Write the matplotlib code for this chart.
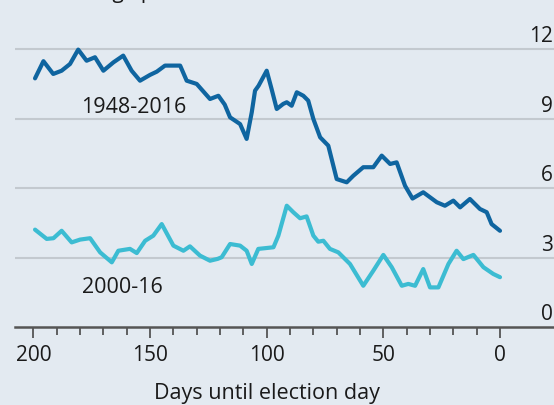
import matplotlib
matplotlib.use("Agg")
import matplotlib.pyplot as plt
from matplotlib.ticker import FixedLocator

plt.rcParams['font.family'] = ['Open Sans', 'DejaVu Sans']

# ---- data ----
long_days = [199.3, 195.7, 191.5, 187.9, 184.3, 180.8, 177.2, 173.6, 170, 165.7,
             161.5, 157.9, 154.3, 150, 147.1, 143.6, 137.1, 134.3, 130, 124.3,
             120.7, 118, 115.7, 111.4, 108.6, 106.4, 105, 103.5, 100, 97.9,
             95.7, 92.9, 91.4, 89.3, 87.1, 84.3, 82.2, 80, 77.1, 73.6,
             70, 65.7, 62.9, 58.6, 54.3, 50.7, 47.1, 44.3, 40.7, 37.5,
             32.9, 27.1, 23.6, 20, 17.1, 12.9, 8.6, 5.7, 3.6, 0]
long_vals = [10.73, 11.47, 10.92, 11.06, 11.35, 11.97, 11.49, 11.64, 11.06, 11.42,
             11.71, 11.06, 10.63, 10.88, 11.02, 11.28, 11.28, 10.63, 10.49, 9.84,
             9.98, 9.6, 9.05, 8.76, 8.12, 9.27, 10.2, 10.41, 11.06, 10.27,
             9.41, 9.63, 9.7, 9.55, 10.13, 9.98, 9.77, 8.98, 8.19, 7.83,
             6.39, 6.25, 6.53, 6.9, 6.9, 7.4, 7.04, 7.11, 6.1, 5.55,
             5.82, 5.39, 5.24, 5.46, 5.17, 5.53, 5.1, 4.96, 4.45, 4.16]

recent_days = [199.3, 194.3, 191.4, 187.9, 183.6, 180, 175.7, 171.4, 166.4, 163.6,
               158.6, 155.7, 152.1, 148.6, 145, 140, 135.7, 132.9, 128.6, 124.3,
               121, 119.3, 115.7, 111.4, 108.6, 106.4, 103.6, 100.7, 97.1, 95,
               91.4, 88.6, 85.7, 82.9, 80, 77.9, 75.7, 72.9, 69.3, 64.3,
               58.6, 54.3, 50, 46.4, 42.1, 39.3, 36.4, 32.9, 30, 26.4,
               22.1, 18.6, 15.7, 11.4, 7.1, 2.9, 0]
recent_vals = [4.21, 3.81, 3.84, 4.16, 3.66, 3.78, 3.84, 3.23, 2.8, 3.3,
               3.38, 3.2, 3.73, 3.95, 4.45, 3.52, 3.3, 3.49, 3.09, 2.87,
               2.95, 3.02, 3.59, 3.52, 3.3, 2.73, 3.38, 3.41, 3.45, 3.95,
               5.24, 4.96, 4.7, 4.78, 3.95, 3.69, 3.73, 3.38, 3.23, 2.73,
               1.79, 2.44, 3.12, 2.59, 1.79, 1.87, 1.79, 2.51, 1.72, 1.72,
               2.73, 3.3, 2.94, 3.12, 2.59, 2.3, 2.16]

x_major = [200, 150, 100, 50, 0]
y_ticks = [0, 3, 6, 9, 12]
long_label = "1948-2016"
recent_label = "2000-16"
x_title = "Days until election day"
top_text = "Percentage points"

# ---- styling ----
BG = "#e3eaf1"
DARK = "#0f65a0"
LIGHT = "#3cbcd2"
GRID = "#c3c9cf"
AXIS = "#555555"
TXT = "#1a1a1a"

W, H = 554, 406
fig = plt.figure(figsize=(W / 100, H / 100), dpi=100, facecolor=BG)

# pixel mapping: x = 500 - 2.333*d ; y = 328.3 - 23.2*v
left_px, right_px = 15, 554
bot_px, top_px = 328.3, 30
ax_h = bot_px - top_px
ax = fig.add_axes([left_px / W, (H - bot_px) / H, (right_px - left_px) / W, ax_h / H])
ax.set_facecolor(BG)
ax.patch.set_alpha(0)
ax.set_xlim((500 - left_px) / 2.333, (500 - right_px) / 2.333)
ax.set_ylim(0, ax_h / 23.2)

for s in ['top', 'right', 'left']:
    ax.spines[s].set_visible(False)
ax.spines['bottom'].set_color(AXIS)
ax.spines['bottom'].set_linewidth(1.8)
ax.spines['bottom'].set_zorder(5)

for v in y_ticks[1:]:
    ax.axhline(v, color=GRID, lw=1.5, zorder=1)

ax.plot(long_days, long_vals, color=DARK, lw=3.0, solid_joinstyle='round',
        solid_capstyle='round', zorder=3)
ax.plot(recent_days, recent_vals, color=LIGHT, lw=3.0, solid_joinstyle='round',
        solid_capstyle='round', zorder=3)

ax.xaxis.set_major_locator(FixedLocator(x_major))
ax.xaxis.set_minor_locator(FixedLocator([d for d in range(0, 201, 10) if d % 50]))
ax.tick_params(axis='x', which='major', length=8, width=1.3, color=AXIS,
               labelsize=15, labelcolor=TXT, pad=4, direction='out')
ax.tick_params(axis='x', which='minor', length=5.5, width=1.3, color=AXIS, direction='out')
ax.set_yticks([])

# x-axis title centred under the day range
ax.text(100, -(399.5 - bot_px) / ax_h, x_title, transform=ax.get_xaxis_transform(),
        fontsize=15.5, color=TXT, ha='center', va='baseline')

# right-hand y labels sitting above gridlines
for v in y_ticks:
    ax.annotate(str(v), xy=(1, v), xycoords=('axes fraction', 'data'),
                xytext=(-1, 3), textcoords='offset pixels',
                ha='right', va='bottom', fontsize=15, color=TXT)

ax.text(179.6, 9.27, long_label, fontsize=15.5, color=TXT, ha='left', va='baseline', zorder=4)
ax.text(179.2, 1.51, recent_label, fontsize=15.5, color=TXT, ha='left', va='baseline', zorder=4)

fig.text(26 / W, 1 + 1.5 / H, top_text, fontsize=15, color=TXT, ha='left', va='baseline')

fig.savefig("out.png", dpi=100, facecolor=BG)
